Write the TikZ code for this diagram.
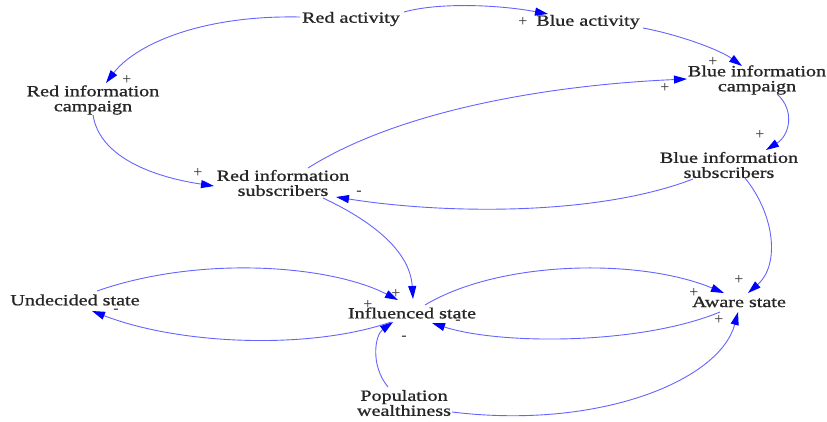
\documentclass[tikz,border=0pt]{standalone}
\usepackage{fontspec}
\setmainfont[FakeStretch=1.3,FakeBold=1]{Liberation Serif}
\newfontfamily\signfont{Liberation Serif}
\usetikzlibrary{arrows.meta}
\definecolor{linec}{RGB}{100,100,255}
\definecolor{tipc}{RGB}{0,0,255}
\begin{document}
\begin{tikzpicture}[x=1pt,y=-1pt,
  var/.style={inner sep=0pt,align=center,font=\fontsize{15.5}{15}\selectfont,text=black!85},
  sign/.style={inner sep=0pt,font=\signfont\fontsize{16}{16}\selectfont,text=black!80},
  link/.style={draw=linec,line width=0.9pt,-{Triangle[length=13pt,width=8pt,color=tipc]}}]
\useasboundingbox (0,0) rectangle (827,421);
\node[var] (ra) at (351,19) {Red activity};
\node[var] (ba) at (588,22) {Blue activity};
\node[var] (rc) at (93,100) {Red information\\campaign};
\node[var] (bc) at (757,80) {Blue information\\campaign};
\node[var] (rs) at (283,183) {Red information\\subscribers};
\node[var] (bs) at (729,165) {Blue information\\subscribers};
\node[var] (us) at (75,300) {Undecided state};
\node[var] (is) at (412,313) {Influenced state};
\node[var] (as) at (739,302) {Aware state};
\node[var] (pw) at (404,403) {Population\\wealthiness};
% connectors
\draw[link] ([shift={(-51,-2)}]ra.center) .. controls (200,15) and (135,45) .. ([shift={(13,-17)}]rc.center);
\draw[link] ([shift={(53,-7)}]ra.center) .. controls (440,2) and (500,5) .. ([shift={(-40,-8)}]ba.center);
\draw[link] ([shift={(55,6)}]ba.center) .. controls (680,35) and (720,50) .. ([shift={(-15,-14)}]bc.center);
\draw[link] ([shift={(0,15)}]rc.center) .. controls (100,160) and (160,178) .. ([shift={(-69,3)}]rs.center);
\draw[link] ([shift={(25,-15)}]rs.center) .. controls (400,110) and (550,85) .. ([shift={(-70,-1)}]bc.center);
\draw[link] ([shift={(20,14)}]bc.center) .. controls (795,110) and (790,135) .. ([shift={(37,-15)}]bs.center);
\draw[link] ([shift={(-36,14)}]bs.center) .. controls (600,215) and (450,215) .. ([shift={(53,14)}]rs.center);
\draw[link] ([shift={(40,15)}]rs.center) .. controls (370,220) and (410,250) .. ([shift={(1,-14)}]is.center);
\draw[link] ([shift={(22,-9)}]us.center) .. controls (200,255) and (330,265) .. ([shift={(-14,-13)}]is.center);
\draw[link] ([shift={(-21,9)}]is.center) .. controls (310,350) and (180,345) .. ([shift={(17,11)}]us.center);
\draw[link] ([shift={(-16,-16)}]pw.center) .. controls (370,365) and (375,335) .. ([shift={(-19,9)}]is.center);
\draw[link] ([shift={(13,-8)}]is.center) .. controls (500,260) and (640,258) .. ([shift={(-15,-9)}]as.center);
\draw[link] ([shift={(-19,10)}]as.center) .. controls (640,345) and (500,345) .. ([shift={(20,10)}]is.center);
\draw[link] ([shift={(16,13)}]bs.center) .. controls (775,215) and (780,265) .. ([shift={(9,-9)}]as.center);
\draw[link] ([shift={(48,9)}]pw.center) .. controls (600,430) and (720,380) .. ([shift={(-1,10)}]as.center);
% polarity signs
\node[sign] (s1) at (127,80) {+};
\node[sign] (s2) at (523,22) {+};
\node[sign] (s3) at (713,62) {+};
\node[sign] (s4) at (198,173) {+};
\node[sign] (s5) at (665,88) {+};
\node[sign] (s6) at (760,135) {+};
\node[sign] (s7) at (359,193) {-};
\node[sign] (s8) at (396,294) {+};
\node[sign] (s9) at (368,305) {+};
\node[sign] (s10) at (116,311) {-};
\node[sign] (s11) at (404,338) {-};
\node[sign] (s12) at (694,293) {+};
\node[sign] (s13) at (458,322) {-};
\node[sign] (s14) at (739,280) {+};
\node[sign] (s15) at (719,320) {+};
\end{tikzpicture}
\end{document}
